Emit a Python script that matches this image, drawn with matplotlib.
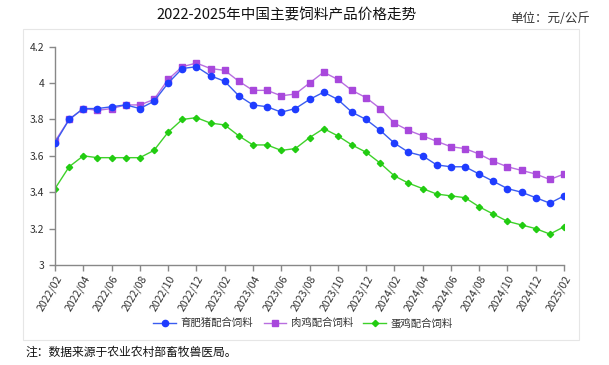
import matplotlib
matplotlib.use("Agg")
import matplotlib.pyplot as plt
from matplotlib.patches import Rectangle

plt.rcParams['font.family'] = ['Noto Sans CJK SC', 'DejaVu Sans']

months = []
y, m = 2022, 2
for _ in range(37):
    months.append(f"{y}/{m:02d}")
    m += 1
    if m > 12:
        m = 1
        y += 1

pig = [3.67, 3.80, 3.86, 3.86, 3.87, 3.88, 3.86, 3.90, 4.00, 4.08, 4.09, 4.04, 4.01,
       3.93, 3.88, 3.87, 3.84, 3.86, 3.91, 3.95, 3.91, 3.84, 3.80, 3.74, 3.67, 3.62, 3.60,
       3.55, 3.54, 3.54, 3.50, 3.46, 3.42, 3.40, 3.37, 3.34, 3.38]
broiler = [3.68, 3.80, 3.86, 3.85, 3.86, 3.88, 3.88, 3.91, 4.02, 4.09, 4.11, 4.08, 4.07,
           4.01, 3.96, 3.96, 3.93, 3.94, 4.00, 4.06, 4.02, 3.96, 3.92, 3.86, 3.78, 3.74, 3.71,
           3.68, 3.65, 3.64, 3.61, 3.57, 3.54, 3.52, 3.50, 3.47, 3.50]
layer = [3.42, 3.54, 3.60, 3.59, 3.59, 3.59, 3.59, 3.63, 3.73, 3.80, 3.81, 3.78, 3.77,
         3.71, 3.66, 3.66, 3.63, 3.64, 3.70, 3.75, 3.71, 3.66, 3.62, 3.56, 3.49, 3.45, 3.42,
         3.39, 3.38, 3.37, 3.32, 3.28, 3.24, 3.22, 3.20, 3.17, 3.21]

series_names = ['育肥猪配合饲料', '肉鸡配合饲料', '蛋鸡配合饲料']
yticks = [3, 3.2, 3.4, 3.6, 3.8, 4, 4.2]
ytick_labels = ['3', '3.2', '3.4', '3.6', '3.8', '4', '4.2']

W, H = 609, 365
fig = plt.figure(figsize=(W / 100, H / 100), dpi=100)

# light frame around chart
fig.patches.append(Rectangle((23 / W, 1 - 340 / H), (579 - 23) / W, (340 - 29) / H,
                             transform=fig.transFigure, fill=False,
                             edgecolor='#e6e6e6', linewidth=0.8))

ax = fig.add_axes([55 / W, 1 - 265 / H, (564 - 55) / W, (265 - 46.7) / H])
x = list(range(len(months)))

ax.plot(x, pig, color='#3a5cf0', lw=1.0, marker='o', ms=4.5,
        mfc='#1f3cff', mec='#1f3cff', label=series_names[0], zorder=3)
ax.plot(x, broiler, color='#b86ee0', lw=1.0, marker='s', ms=4.5,
        mfc='#a848dc', mec='#a848dc', label=series_names[1], zorder=2)
ax.plot(x, layer, color='#3ed12a', lw=1.0, marker='D', ms=3.2,
        mfc='#22cc11', mec='#22cc11', label=series_names[2], zorder=2)

ax.set_xlim(0, len(months) - 1)
ax.set_ylim(3, 4.2)
ax.set_yticks(yticks)
ax.set_yticklabels(ytick_labels, fontsize=7.5, color='#333333')
ax.set_xticks(x[::2])
ax.set_xticklabels(months[::2], rotation=60, ha='right', rotation_mode='anchor',
                   fontsize=7.6, color='#333333')

for s in ['top', 'right']:
    ax.spines[s].set_visible(False)
for s in ['left', 'bottom']:
    ax.spines[s].set_color('#888888')
    ax.spines[s].set_linewidth(1.0)
ax.tick_params(axis='both', colors='#888888', length=4, width=1.0, labelcolor='#333333')
ax.tick_params(axis='x', pad=2)

leg = fig.legend(loc='center', bbox_to_anchor=(303 / W, 1 - 323 / H), ncol=3,
                 frameon=False, fontsize=7.5, handlelength=2.2, columnspacing=1.0,
                 handletextpad=0.4)
for t in leg.get_texts():
    t.set_color('#333333')

fig.text(287 / W, 1 - 15 / H, '2022-2025年中国主要饲料产品价格走势', ha='center', va='center',
         fontsize=10.5, color='#111111')
fig.text(590 / W, 1 - 18 / H, '单位：元/公斤', ha='right', va='center',
         fontsize=9, color='#333333')
fig.text(25 / W, 1 - 352 / H, '注：数据来源于农业农村部畜牧兽医局。', ha='left', va='center',
         fontsize=8.5, color='#111111')

fig.savefig('out.png', dpi=100)
